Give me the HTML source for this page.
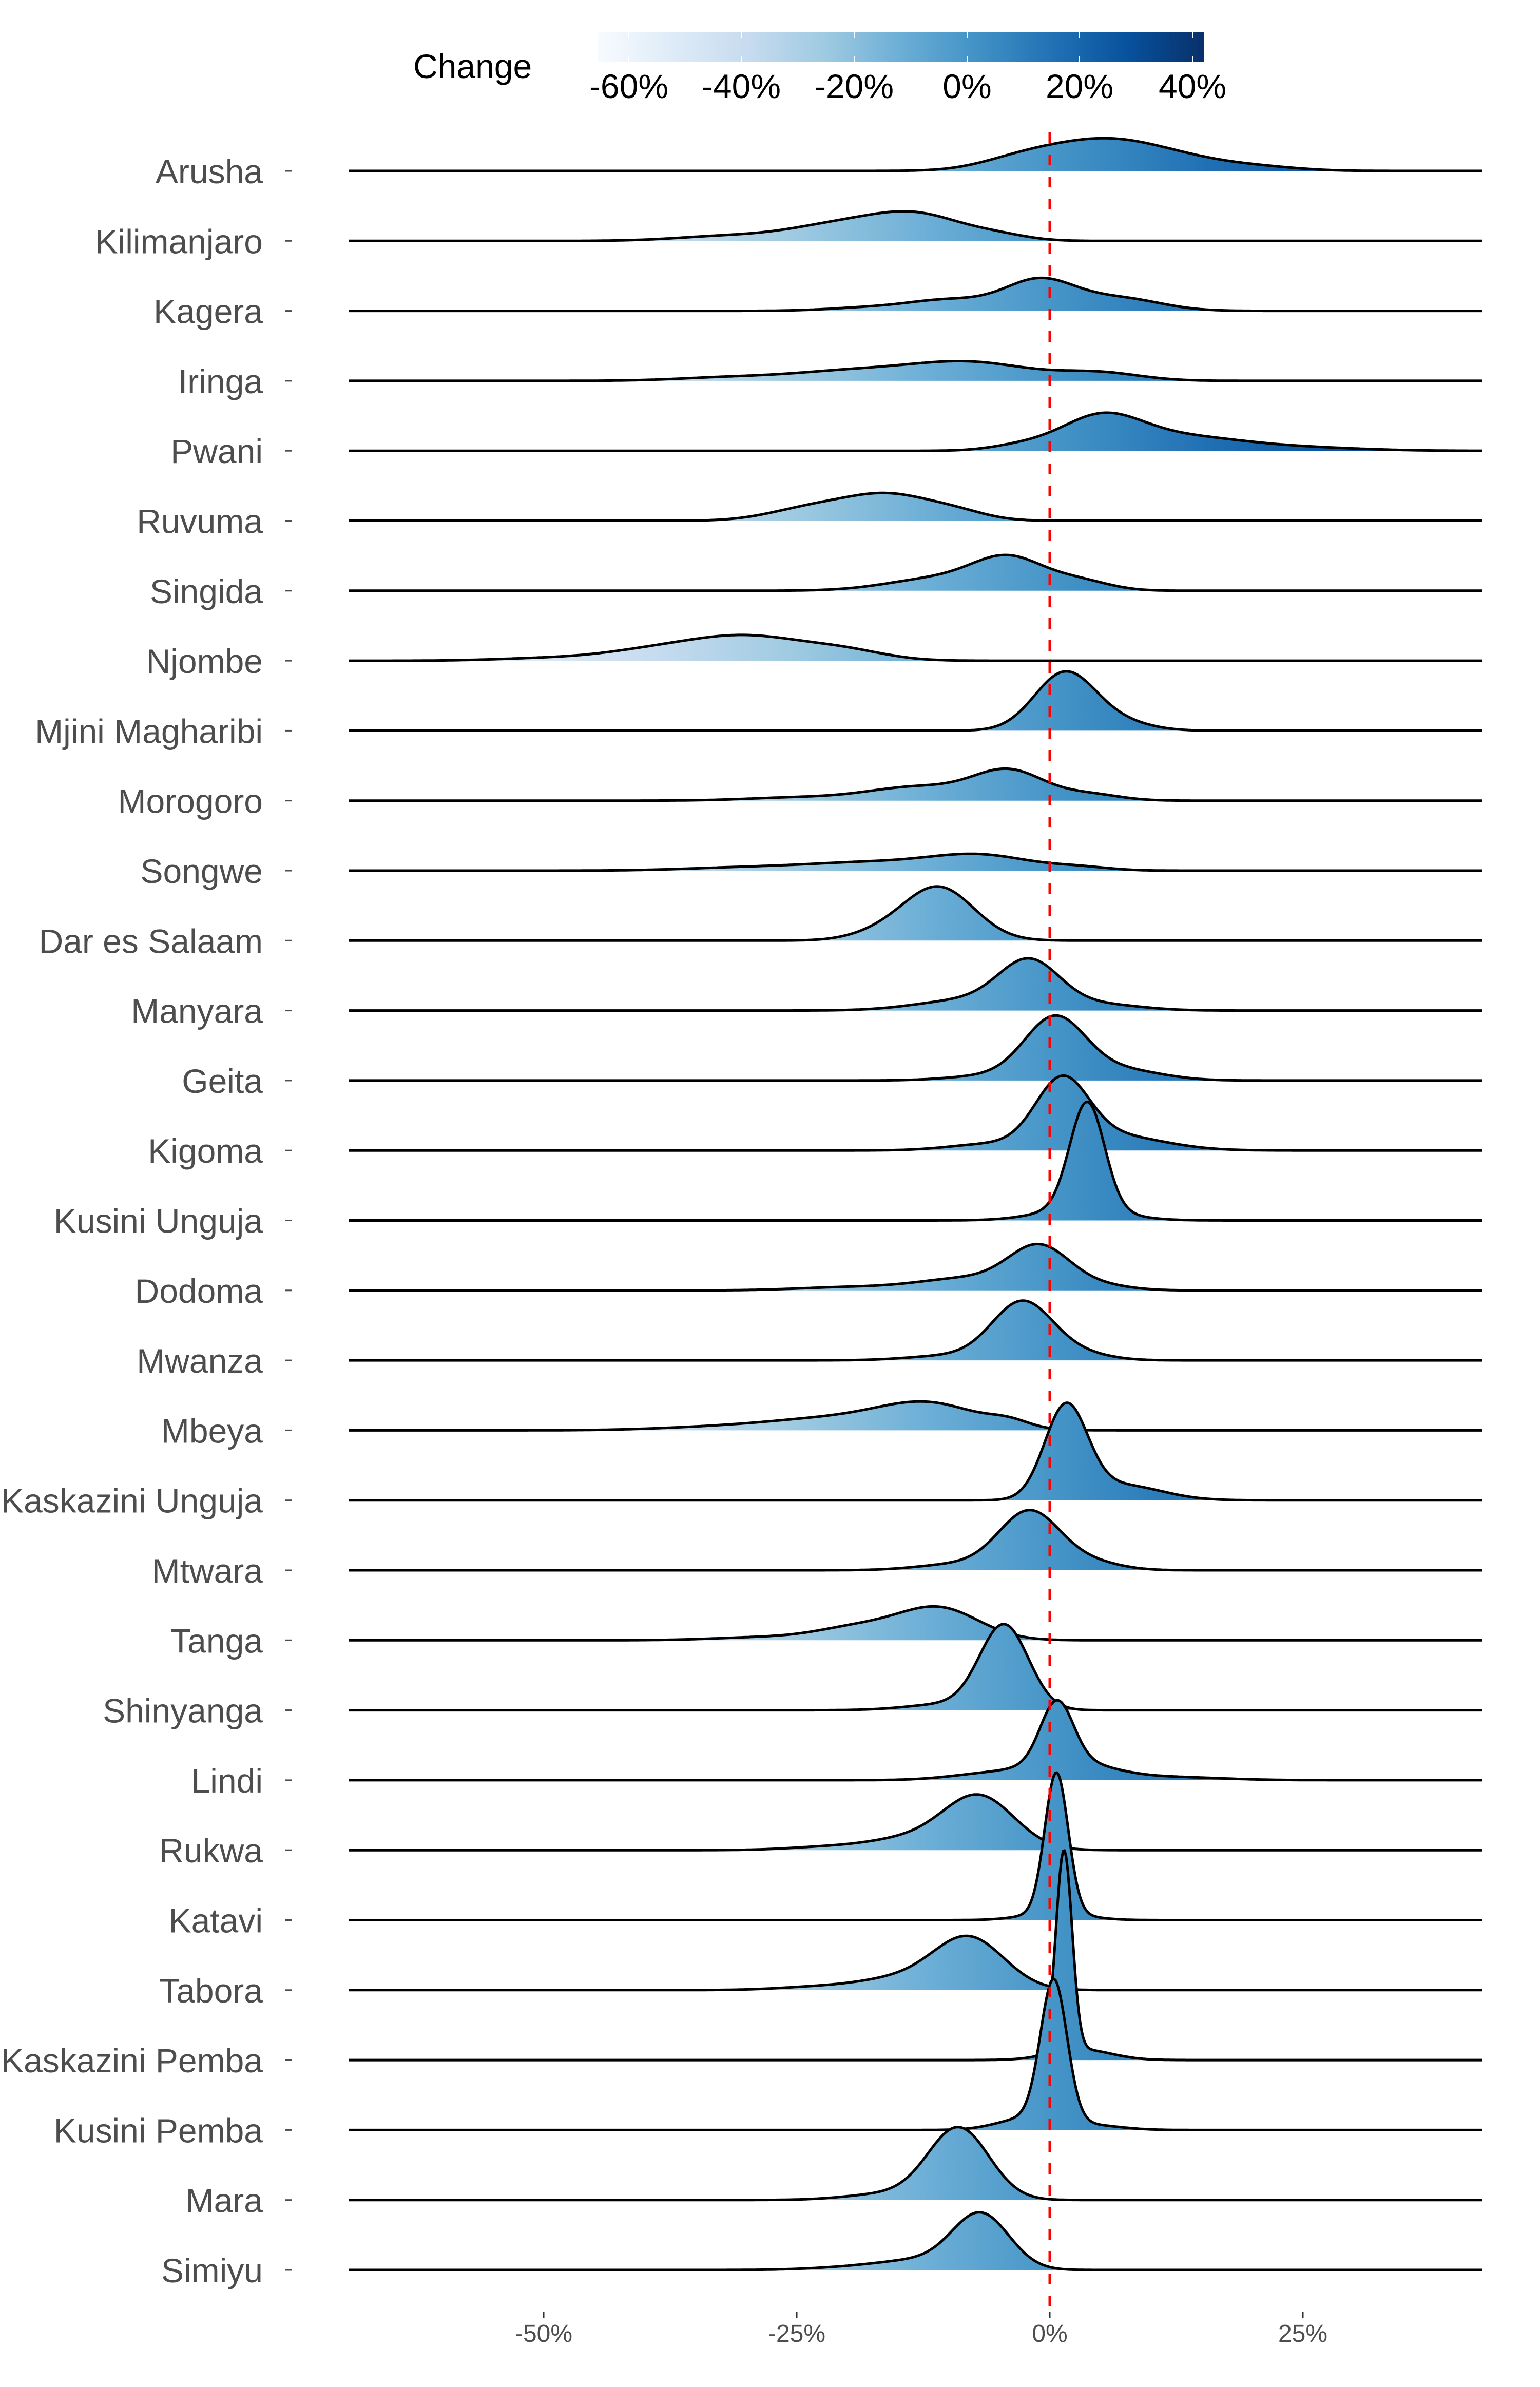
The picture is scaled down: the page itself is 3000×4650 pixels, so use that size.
<!DOCTYPE html>
<html><head><meta charset="utf-8">
<style>
html,body{margin:0;padding:0;background:#fff;}
svg{display:block;}
</style></head>
<body>
<svg id="s" xmlns="http://www.w3.org/2000/svg" width="3000" height="4650" viewBox="0 0 3000 4650" font-family="Liberation Sans, Arial, sans-serif">
<defs>
<linearGradient id="g" gradientUnits="userSpaceOnUse" x1="753" y1="0" x2="2875" y2="0">
<stop offset="0" stop-color="#f7fbff"/><stop offset="0.125" stop-color="#deebf7"/><stop offset="0.25" stop-color="#c6dbef"/><stop offset="0.375" stop-color="#9ecae1"/><stop offset="0.5" stop-color="#6baed6"/><stop offset="0.625" stop-color="#4292c6"/><stop offset="0.75" stop-color="#2171b5"/><stop offset="0.875" stop-color="#08519c"/><stop offset="1" stop-color="#08306b"/>
</linearGradient>
<linearGradient id="gb" x1="0" y1="0" x2="1" y2="0">
<stop offset="0" stop-color="#f7fbff"/><stop offset="0.125" stop-color="#deebf7"/><stop offset="0.25" stop-color="#c6dbef"/><stop offset="0.375" stop-color="#9ecae1"/><stop offset="0.5" stop-color="#6baed6"/><stop offset="0.625" stop-color="#4292c6"/><stop offset="0.75" stop-color="#2171b5"/><stop offset="0.875" stop-color="#08519c"/><stop offset="1" stop-color="#08306b"/>
</linearGradient>
</defs>
<text x="805" y="152" font-size="66" fill="#000">Change</text>
<rect x="1165" y="62" width="1181" height="59" fill="url(#gb)"/>
<g stroke="#fff" stroke-width="2">
<line x1="1225" y1="62" x2="1225" y2="74"/><line x1="1225" y1="109" x2="1225" y2="121"/>
<line x1="1444" y1="62" x2="1444" y2="74"/><line x1="1444" y1="109" x2="1444" y2="121"/>
<line x1="1664" y1="62" x2="1664" y2="74"/><line x1="1664" y1="109" x2="1664" y2="121"/>
<line x1="1884" y1="62" x2="1884" y2="74"/><line x1="1884" y1="109" x2="1884" y2="121"/>
<line x1="2103" y1="62" x2="2103" y2="74"/><line x1="2103" y1="109" x2="2103" y2="121"/>
<line x1="2323" y1="62" x2="2323" y2="74"/><line x1="2323" y1="109" x2="2323" y2="121"/>
</g>
<g font-size="66" fill="#000" text-anchor="middle">
<text x="1225" y="191">-60%</text><text x="1444" y="191">-40%</text><text x="1664" y="191">-20%</text><text x="1884" y="191">0%</text><text x="2103" y="191">20%</text><text x="2323" y="191">40%</text>
</g>
<g id="rows"></g>
<line x1="2045" y1="258" x2="2045" y2="4503" stroke="#ff0000" stroke-width="5" stroke-dasharray="21,22"/>
<g id="labels" font-size="66" fill="#4d4d4d" text-anchor="end"></g>
<g stroke="#333" stroke-width="3">
<line x1="1059" y1="4504" x2="1059" y2="4515"/><line x1="1552" y1="4504" x2="1552" y2="4515"/><line x1="2045" y1="4504" x2="2045" y2="4515"/><line x1="2538" y1="4504" x2="2538" y2="4515"/>
</g>
<g font-size="48" fill="#4d4d4d" text-anchor="middle">
<text x="1059" y="4562">-50%</text><text x="1552" y="4562">-25%</text><text x="2045" y="4562">0%</text><text x="2538" y="4562">25%</text>
</g>
</svg>
<script>
var rows=[
["Arusha",[[5,5.5,19],[-3,4,6],[13,5,6],[21,4,2]]],
["Kilimanjaro",[[-13,4.5,16],[-21,5,10],[-32,5,3],[-5,3,3]]],
["Kagera",[[-1,3.5,20],[-10,4,7],[7,4,8],[-18,4,2]]],
["Iringa",[[-8,6,12],[-20,6,6],[5,4,5],[-32,5,2]]],
["Pwani",[[5,4,21],[13,6,9],[25,6,2],[-3,3,3]]],
["Ruvuma",[[-16,4.5,17],[-24,4,7],[-9,3,4]]],
["Singida",[[-4,3.5,20],[-11,5,8],[3,3,6]]],
["Njombe",[[-30,6,16],[-40,5,5],[-20,4,5],[-50,5,1.5]]],
["Mjini Magharibi",[[1.5,3,38],[7,3,5]]],
["Morogoro",[[-4,3.5,19],[-13,5,9],[4,3,4],[-25,5,2]]],
["Songwe",[[-7,5,10],[-18,6,5],[-30,6,2],[3,3,2]]],
["Dar es Salaam",[[-11,3.5,35],[-17,3,4]]],
["Manyara",[[-2,3,30],[-8,5,7],[5,4,4]]],
["Geita",[[0.5,3,40],[7,4,7],[-6,4,3]]],
["Kigoma",[[1.2,2.6,42],[6,5,10],[-6,4,4]]],
["Kusini Unguja",[[3.7,1.7,70],[3,4,8]]],
["Dodoma",[[-1,3,27],[-8,5,8],[5,3,3],[-20,5,2]]],
["Mwanza",[[-2.7,3,38],[3,3,4],[-10,4,3]]],
["Mbeya",[[-12,5,17],[-22,6,7],[-33,6,2],[-4,2,4]]],
["Kaskazini Unguja",[[1.6,2.1,60],[7,4,10]]],
["Mtwara",[[-2,3,38],[4,3,5],[-9,4,4]]],
["Tanga",[[-11,4,21],[-19,4,8],[-28,5,2]]],
["Shinyanga",[[-4.5,2.4,55],[-10,4,4]]],
["Lindi",[[0.7,1.6,40],[2,4,12],[-6,4,4],[12,5,2]]],
["Rukwa",[[-7,3.5,35],[-14,4,7],[-22,4,2]]],
["Katavi",[[0.66,1.15,92],[0.5,3,5]]],
["Tabora",[[-8,3.5,34],[-15,4,7],[-23,4,2]]],
["Kaskazini Pemba",[[1.4,0.8,132],[3,3,7]]],
["Kusini Pemba",[[0.4,1.3,92],[-2,3,8],[4,3,3]]],
["Mara",[[-9,3,47],[-16,4,4]]],
["Simiyu",[[-6.8,2.8,36],[-13,4,6],[-20,4,1.5]]]
];
var NS="http://www.w3.org/2000/svg";
var rg=document.getElementById("rows"),lg=document.getElementById("labels");
function P(x){return (x-2045)/19.72;}
for(var i=0;i<rows.length;i++){
  var base=333+i*136.3,comps=rows[i][1];
  var pts=[];
  for(var x=679;x<=2887;x+=3){
    var p=P(x),h=0;
    for(var k=0;k<comps.length;k++){var c=comps[k];var d=(p-c[0])/c[1];h+=c[2]*Math.exp(-0.5*d*d);}
    h*=2.966;
    pts.push([x,base-h]);
  }
  var d="M"+pts.map(function(q){return q[0]+","+q[1].toFixed(1);}).join("L");
  var f=document.createElementNS(NS,"path");
  f.setAttribute("d",d+"L2887,"+base+"L679,"+base+"Z");
  f.setAttribute("fill","url(#g)");
  rg.appendChild(f);
  var o=document.createElementNS(NS,"path");
  o.setAttribute("d",d);
  o.setAttribute("fill","none");o.setAttribute("stroke","#000");o.setAttribute("stroke-width","5");o.setAttribute("stroke-linejoin","round");
  rg.appendChild(o);
  var t=document.createElementNS(NS,"text");
  t.setAttribute("x","512");t.setAttribute("y",(base+24).toFixed(1));
  t.textContent=rows[i][0];lg.appendChild(t);
  var tk=document.createElementNS(NS,"line");
  tk.setAttribute("x1","556");tk.setAttribute("x2","568");tk.setAttribute("y1",base);tk.setAttribute("y2",base);
  tk.setAttribute("stroke","#4d4d4d");tk.setAttribute("stroke-width","3");lg.appendChild(tk);
}
</script>
</body></html>
